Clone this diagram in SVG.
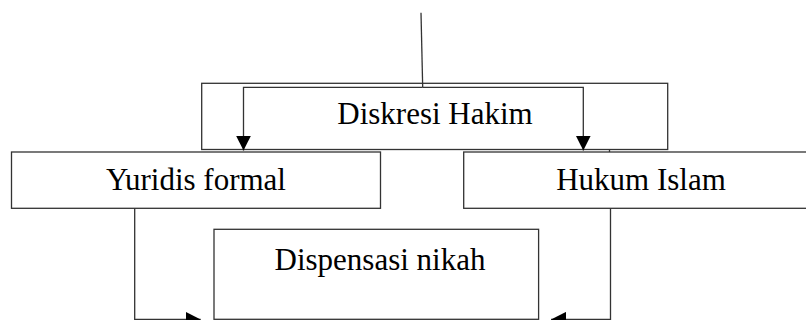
<svg xmlns="http://www.w3.org/2000/svg" width="806" height="320" viewBox="0 0 806 320">
  <defs>
    <marker id="arrow" markerUnits="userSpaceOnUse" markerWidth="15" markerHeight="15" refX="15" refY="7.5" orient="auto" viewBox="0 0 15 15">
      <path d="M0,0 L15,7.5 L0,15 z" fill="#000"/>
    </marker>
    <style>
      .box { fill: #fff; stroke: #333; stroke-width: 1.3; }
      .label { font-size: 31px; fill: #000; text-anchor: middle; }
      .link { fill: none; stroke: #333; stroke-width: 1.3; }
      .arrow { marker-end: url(#arrow); }
    </style>
  </defs>

  <rect width="806" height="320" fill="#fff"/>

  <g font-family="'Liberation Serif', 'Times New Roman', Tinos, 'DejaVu Serif', serif">
    <g id="diskresi-hakim">
      <rect class="box" x="201.7" y="83.3" width="466" height="66.2"/>
      <text class="label" x="435" y="123.5">Diskresi Hakim</text>
    </g>

    <g id="yuridis-formal">
      <rect class="box" x="11.5" y="152" width="369" height="56.3"/>
      <text class="label" x="196" y="190">Yuridis formal</text>
    </g>

    <g id="hukum-islam">
      <rect class="box" x="463.7" y="152" width="360" height="56.3"/>
      <text class="label" x="641" y="190">Hukum Islam</text>
    </g>

    <g id="dispensasi-nikah">
      <rect class="box" x="214" y="229.3" width="324.6" height="90"/>
      <text class="label" x="380" y="270">Dispensasi nikah</text>
    </g>
  </g>

  <g id="connectors">
    <path class="link" d="M421,12.7 L422.7,87.3"/>
    <path class="link arrow" d="M422.7,87.3 H243.5 V150.6"/>
    <path class="link arrow" d="M422.7,87.3 H583.3 V150.6"/>
    <path class="link" d="M609.5,149.5 V152"/>
    <path class="link arrow" d="M134.7,208.3 V319.4 H200.7"/>
    <path class="link arrow" d="M610.5,208.3 V319.4 H551"/>
  </g>
</svg>
